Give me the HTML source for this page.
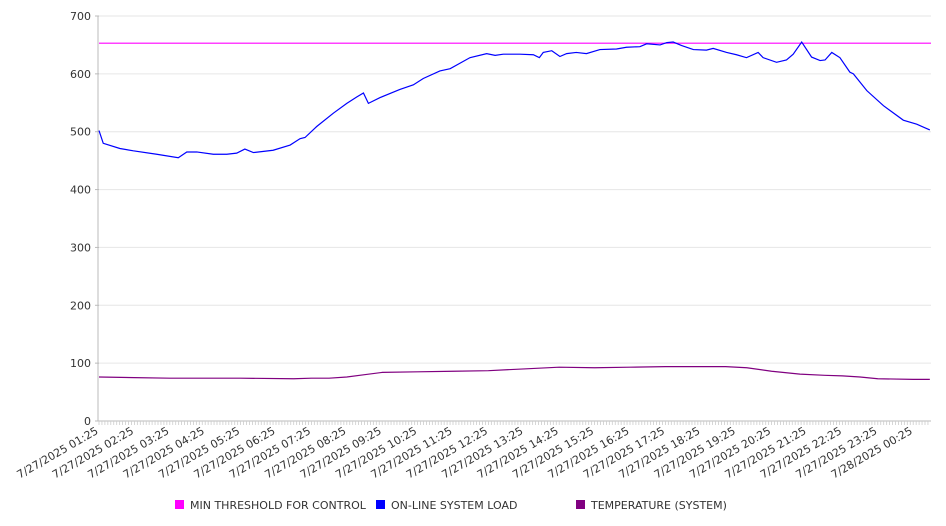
<!DOCTYPE html>
<html><head><meta charset="utf-8"><style>
body{margin:0;background:#fff;}
svg{display:block;font-family:"DejaVu Sans","Liberation Sans",sans-serif;}
</style></head><body>
<svg id="chart" width="946" height="526"></svg>
<script>
const loadHours=[0,0.12,0.59,0.97,1.63,2.24,2.48,2.76,3.23,3.61,3.89,4.12,4.36,4.92,5.4,5.68,5.82,6.15,6.62,7.0,7.28,7.47,7.61,7.94,8.5,8.88,9.16,9.63,9.92,10.48,10.95,11.19,11.42,11.89,12.27,12.44,12.55,12.79,13.02,13.21,13.48,13.77,14.15,14.62,14.9,15.28,15.47,15.85,16.04,16.22,16.46,16.79,17.16,17.35,17.73,18.01,18.29,18.62,18.76,19.14,19.42,19.61,19.85,20.13,20.37,20.51,20.7,20.93,21.21,21.31,21.69,22.16,22.72,23.1,23.47];
const loadValues=[502,480,471,467,461,455,465,465,461,461,463,470,464,468,477,488,490,509,532,549,560,567,549,559,573,581,592,605,609,628,635,632,634,634,633,628,637,640,630,635,637,635,642,643,646,647,652,650,654,655,649,642,641,644,637,633,628,637,628,620,624,634,655,629,623,624,637,628,603,600,571,545,520,513,503];
const tempHours=[0,1,2,4,5.5,6,6.5,7,7.5,8,9,10,11,12,13,14,15,16,17,17.7,18.3,19,19.8,20.5,21,21.5,22,23,23.47];
const tempValues=[76,75,74,74,73,74,74,76,80,84,85,86,87,90,93,92,93,94,94,94,92,86,81,79,78,76,73,72,72];
const thresholdValue=653;
const tickLabels=["7/27/2025 01:25","7/27/2025 02:25","7/27/2025 03:25","7/27/2025 04:25","7/27/2025 05:25","7/27/2025 06:25","7/27/2025 07:25","7/27/2025 08:25","7/27/2025 09:25","7/27/2025 10:25","7/27/2025 11:25","7/27/2025 12:25","7/27/2025 13:25","7/27/2025 14:25","7/27/2025 15:25","7/27/2025 16:25","7/27/2025 17:25","7/27/2025 18:25","7/27/2025 19:25","7/27/2025 20:25","7/27/2025 21:25","7/27/2025 22:25","7/27/2025 23:25","7/28/2025 00:25"];
const yTicks=[0,100,200,300,400,500,600,700];
const legendNames=["MIN THRESHOLD FOR CONTROL","ON-LINE SYSTEM LOAD","TEMPERATURE (SYSTEM)"];
const legendColors=["#ff00ff","#0000ff","#800080"];

const svg=document.getElementById('chart');
const NS='http://www.w3.org/2000/svg';
const X0=99,PX_PER_H=35.4,X1=931,Y0=421,Y1=16,VMAX=700;
const xs=h=>X0+h*PX_PER_H;
const ys=v=>Y0-(v/VMAX)*(Y0-Y1);
function mk(tag,attrs,parent){const e=document.createElementNS(NS,tag);for(const k in attrs)e.setAttribute(k,attrs[k]);(parent||svg).appendChild(e);return e;}

yTicks.forEach(t=>{
  const g=mk('line',{x1:X0,x2:X1,y1:ys(t),y2:ys(t),stroke:t===0?'#bbb':'#e6e6e6','stroke-width':1});
  
  
  const tx=mk('text',{x:X0-8,y:ys(t)+4,'text-anchor':'end','font-size':11,fill:'#333'});
  tx.textContent=t;
  
  
  mk('line',{x1:X0-4,x2:X0,y1:ys(t),y2:ys(t),stroke:'#bbb'});
});
const ax=mk('line',{x1:X0-1,x2:X0-1,y1:Y1,y2:Y0,stroke:'#bbb'});


for(let m=0;m<=23.47*12;m++){mk('line',{x1:xs(m/12),x2:xs(m/12),y1:Y0,y2:Y0+4,stroke:'#ccc','stroke-width':0.8});}
tickLabels.forEach((l,i)=>{
  const x=xs(i),y=Y0+12;
  const t=mk('text',{x:x,y:y,'text-anchor':'end','font-size':11,fill:'#333',transform:`rotate(-30 ${x} ${y})`});
  t.textContent=l;
  
  
});
const th=mk('line',{x1:X0,x2:X1,y1:ys(thresholdValue),y2:ys(thresholdValue),stroke:legendColors[0],'stroke-width':1.2});


const lp=mk('polyline',{points:loadHours.map((h,i)=>xs(h)+','+ys(loadValues[i])).join(' '),fill:'none',stroke:legendColors[1],'stroke-width':1.2});


const tp=mk('polyline',{points:tempHours.map((h,i)=>xs(h)+','+ys(tempValues[i])).join(' '),fill:'none',stroke:legendColors[2],'stroke-width':1.2});


const lx=[175,376,576];
legendNames.forEach((n,i)=>{
  const g=mk('g',{});
  
  
  mk('rect',{x:lx[i],y:500,width:9,height:9,fill:legendColors[i]},g);
  const t=mk('text',{x:lx[i]+15,y:509,'font-size':11,fill:'#333'},g);
  t.textContent=n;
});
</script>
</body></html>
